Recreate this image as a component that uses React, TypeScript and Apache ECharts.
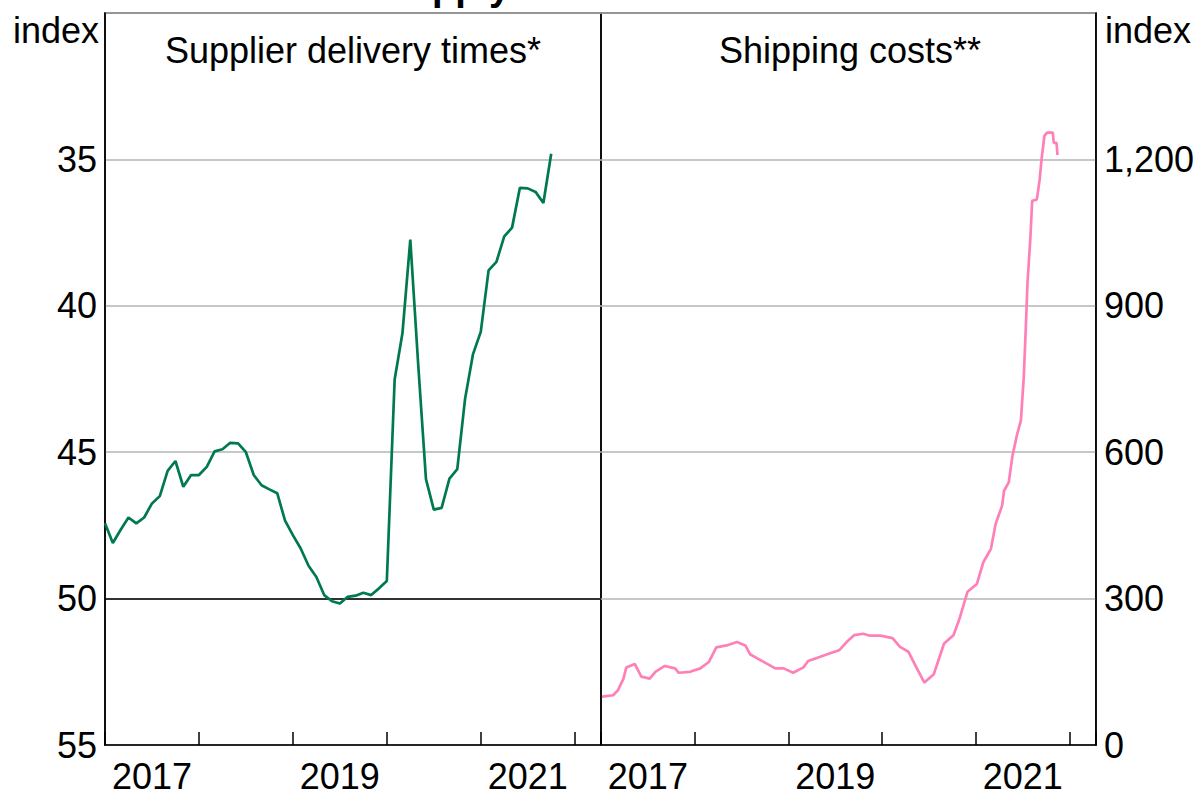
import React, { useEffect, useRef } from "react";
import * as echarts from "echarts";

// Supplier delivery times (PMI sub-index, monthly from Jan 2017), inverted axis
const supplierStartYear = 2017;
const supplierValues = [
  47.43, 48.1, 47.65, 47.23, 47.43, 47.23, 46.75, 46.5, 45.64, 45.3, 46.18, 45.78,
  45.78, 45.5, 44.97, 44.9, 44.68, 44.7, 45.0, 45.78, 46.13, 46.27, 46.4, 47.34,
  47.83, 48.29, 48.88, 49.26, 49.88, 50.09, 50.17, 49.94, 49.9, 49.8, 49.88, 49.65,
  49.4, 42.52, 40.93, 37.74, 41.97, 45.92, 46.96, 46.9, 45.9, 45.58, 43.17, 41.66,
  40.89, 38.79, 38.5, 37.63, 37.33, 35.97, 35.99, 36.11, 36.49, 34.81,
];

// Shipping costs index (dates as decimal years)
const shipDates = [
  2017.01, 2017.13, 2017.18, 2017.24, 2017.27, 2017.36, 2017.43, 2017.52, 2017.58, 2017.68,
  2017.79, 2017.83, 2017.95, 2018.06, 2018.15, 2018.23, 2018.34, 2018.45, 2018.54, 2018.59,
  2018.72, 2018.86, 2018.95, 2019.05, 2019.16, 2019.21, 2019.34, 2019.46, 2019.54, 2019.62,
  2019.7, 2019.8, 2019.87, 2019.98, 2020.11, 2020.19, 2020.28, 2020.37, 2020.45, 2020.55,
  2020.66, 2020.76, 2020.82, 2020.91, 2021.01, 2021.08, 2021.16, 2021.21, 2021.28, 2021.3,
  2021.35, 2021.39, 2021.44, 2021.48, 2021.49, 2021.51, 2021.53, 2021.55, 2021.58, 2021.6,
  2021.65, 2021.68, 2021.7, 2021.73, 2021.76, 2021.82, 2021.83, 2021.86, 2021.87,
];
const shipValues = [
  99, 102, 112, 136, 159, 166, 140, 136, 150, 162,
  157, 148, 150, 157, 170, 200, 204, 211, 204, 186,
  172, 157, 157, 148, 159, 172, 181, 189, 194, 211,
  225, 228, 224, 224, 219, 201, 191, 157, 128, 145,
  208, 225, 256, 314, 330, 375, 402, 453, 491, 521,
  538, 593, 637, 665, 695, 753, 845, 947, 1036, 1115,
  1118, 1159, 1200, 1248, 1255, 1255, 1234, 1234, 1209,
];

const yearLabels = [2017, 2019, 2021];
const leftTicks = [30, 35, 40, 45, 50, 55];
const rightTicks = [0, 300, 600, 900, 1200, 1500];

const FONT = "'Liberation Sans', Arial, sans-serif";
const GREEN = "#007A4D";
const PINK = "#FF80B9";
const GRID_GREY = "#b4b4b4";

export default function App() {
  const ref = useRef<HTMLDivElement>(null);

  useEffect(() => {
    document.body.style.margin = "0";
    if (!ref.current) return;
    const chart = echarts.init(ref.current, undefined, { renderer: "svg" });

    const supplierData = supplierValues.map((v, i) => [supplierStartYear + i / 12, v]);
    const shipData = shipValues.map((v, i) => [shipDates[i], v]);

    const baseX = (gridIndex: number) => ({
      type: "value" as const,
      gridIndex,
      min: 2017,
      max: 2022.28,
      interval: 1,
      axisLine: { show: true, lineStyle: { color: "#000", width: 1.5 } },
      axisTick: { show: true, inside: true, length: 13, lineStyle: { color: "#000", width: 1.5 } },
      axisLabel: { show: false },
      splitLine: { show: false },
    });
    const labelX = (gridIndex: number) => ({
      type: "value" as const,
      gridIndex,
      min: 2016.5,
      max: 2021.78,
      interval: 0.5,
      position: "bottom" as const,
      axisLine: { show: false },
      axisTick: { show: false },
      splitLine: { show: false },
      axisLabel: {
        show: true,
        margin: 13,
        fontSize: 36,
        fontFamily: FONT,
        color: "#000",
        showMinLabel: true,
        showMaxLabel: true,
        formatter: (v: number) => (yearLabels.includes(v) ? String(v) : ""),
      },
    });

    chart.setOption({
      animation: false,
      backgroundColor: "#fff",
      grid: [
        { left: 105, right: 596, top: 13, bottom: 53, show: true, borderColor: "#000", borderWidth: 1.5, backgroundColor: "transparent" },
        { left: 601, right: 98, top: 13, bottom: 53, show: true, borderColor: "#000", borderWidth: 1.5, backgroundColor: "transparent" },
      ],
      xAxis: [baseX(0), baseX(1), labelX(0), labelX(1)],
      yAxis: [
        {
          type: "value",
          gridIndex: 0,
          inverse: true,
          min: leftTicks[0],
          max: leftTicks[leftTicks.length - 1],
          interval: 5,
          position: "left",
          axisLine: { show: true, lineStyle: { color: "#000", width: 1.5 } },
          axisTick: { show: false },
          axisLabel: {
            fontSize: 36,
            fontFamily: FONT,
            color: "#000",
            margin: 8,
            formatter: (v: number) => (v === leftTicks[0] ? "" : String(v)),
          },
          splitLine: { show: true, lineStyle: { color: GRID_GREY, width: 1.5 } },
        },
        {
          type: "value",
          gridIndex: 1,
          min: rightTicks[0],
          max: rightTicks[rightTicks.length - 1],
          interval: 300,
          position: "right",
          axisLine: { show: true, lineStyle: { color: "#000", width: 1.5 } },
          axisTick: { show: false },
          axisLabel: {
            fontSize: 36,
            fontFamily: FONT,
            color: "#000",
            margin: 8,
            formatter: (v: number) =>
              v === rightTicks[rightTicks.length - 1] ? "" : v.toLocaleString("en-US"),
          },
          splitLine: { show: true, lineStyle: { color: GRID_GREY, width: 1.5 } },
        },
      ],
      series: [
        {
          type: "line",
          name: "Supplier delivery times",
          xAxisIndex: 0,
          yAxisIndex: 0,
          data: supplierData,
          showSymbol: false,
          lineStyle: { color: GREEN, width: 2.7 },
          itemStyle: { color: GREEN },
          z: 5,
          markLine: {
            silent: true,
            symbol: "none",
            label: { show: false },
            lineStyle: { color: "#000", width: 1.5, type: "solid" },
            data: [{ yAxis: 50 }],
            z: 3,
          },
        },
        {
          type: "line",
          name: "Shipping costs",
          xAxisIndex: 1,
          yAxisIndex: 1,
          data: shipData,
          showSymbol: false,
          lineStyle: { color: PINK, width: 2.7 },
          itemStyle: { color: PINK },
          z: 5,
        },
      ],
      graphic: [
        {
          type: "text",
          x: 602,
          y: -13,
          style: {
            text: "Supply Chain Pressures",
            font: `bold 38px ${FONT}`,
            fill: "#000",
            align: "center",
            verticalAlign: "middle",
          },
        },
        {
          type: "text",
          x: 353,
          y: 50,
          style: { text: "Supplier delivery times*", font: `36px ${FONT}`, fill: "#000", align: "center", verticalAlign: "middle" },
        },
        {
          type: "text",
          x: 850,
          y: 50,
          style: { text: "Shipping costs**", font: `36px ${FONT}`, fill: "#000", align: "center", verticalAlign: "middle" },
        },
        {
          type: "text",
          x: 99,
          y: 30,
          style: { text: "index", font: `36px ${FONT}`, fill: "#000", align: "right", verticalAlign: "middle" },
        },
        {
          type: "text",
          x: 1105,
          y: 30,
          style: { text: "index", font: `36px ${FONT}`, fill: "#000", align: "left", verticalAlign: "middle" },
        },
      ],
    });

    return () => chart.dispose();
  }, []);

  return <div ref={ref} style={{ width: 1197, height: 798 }} />;
}
